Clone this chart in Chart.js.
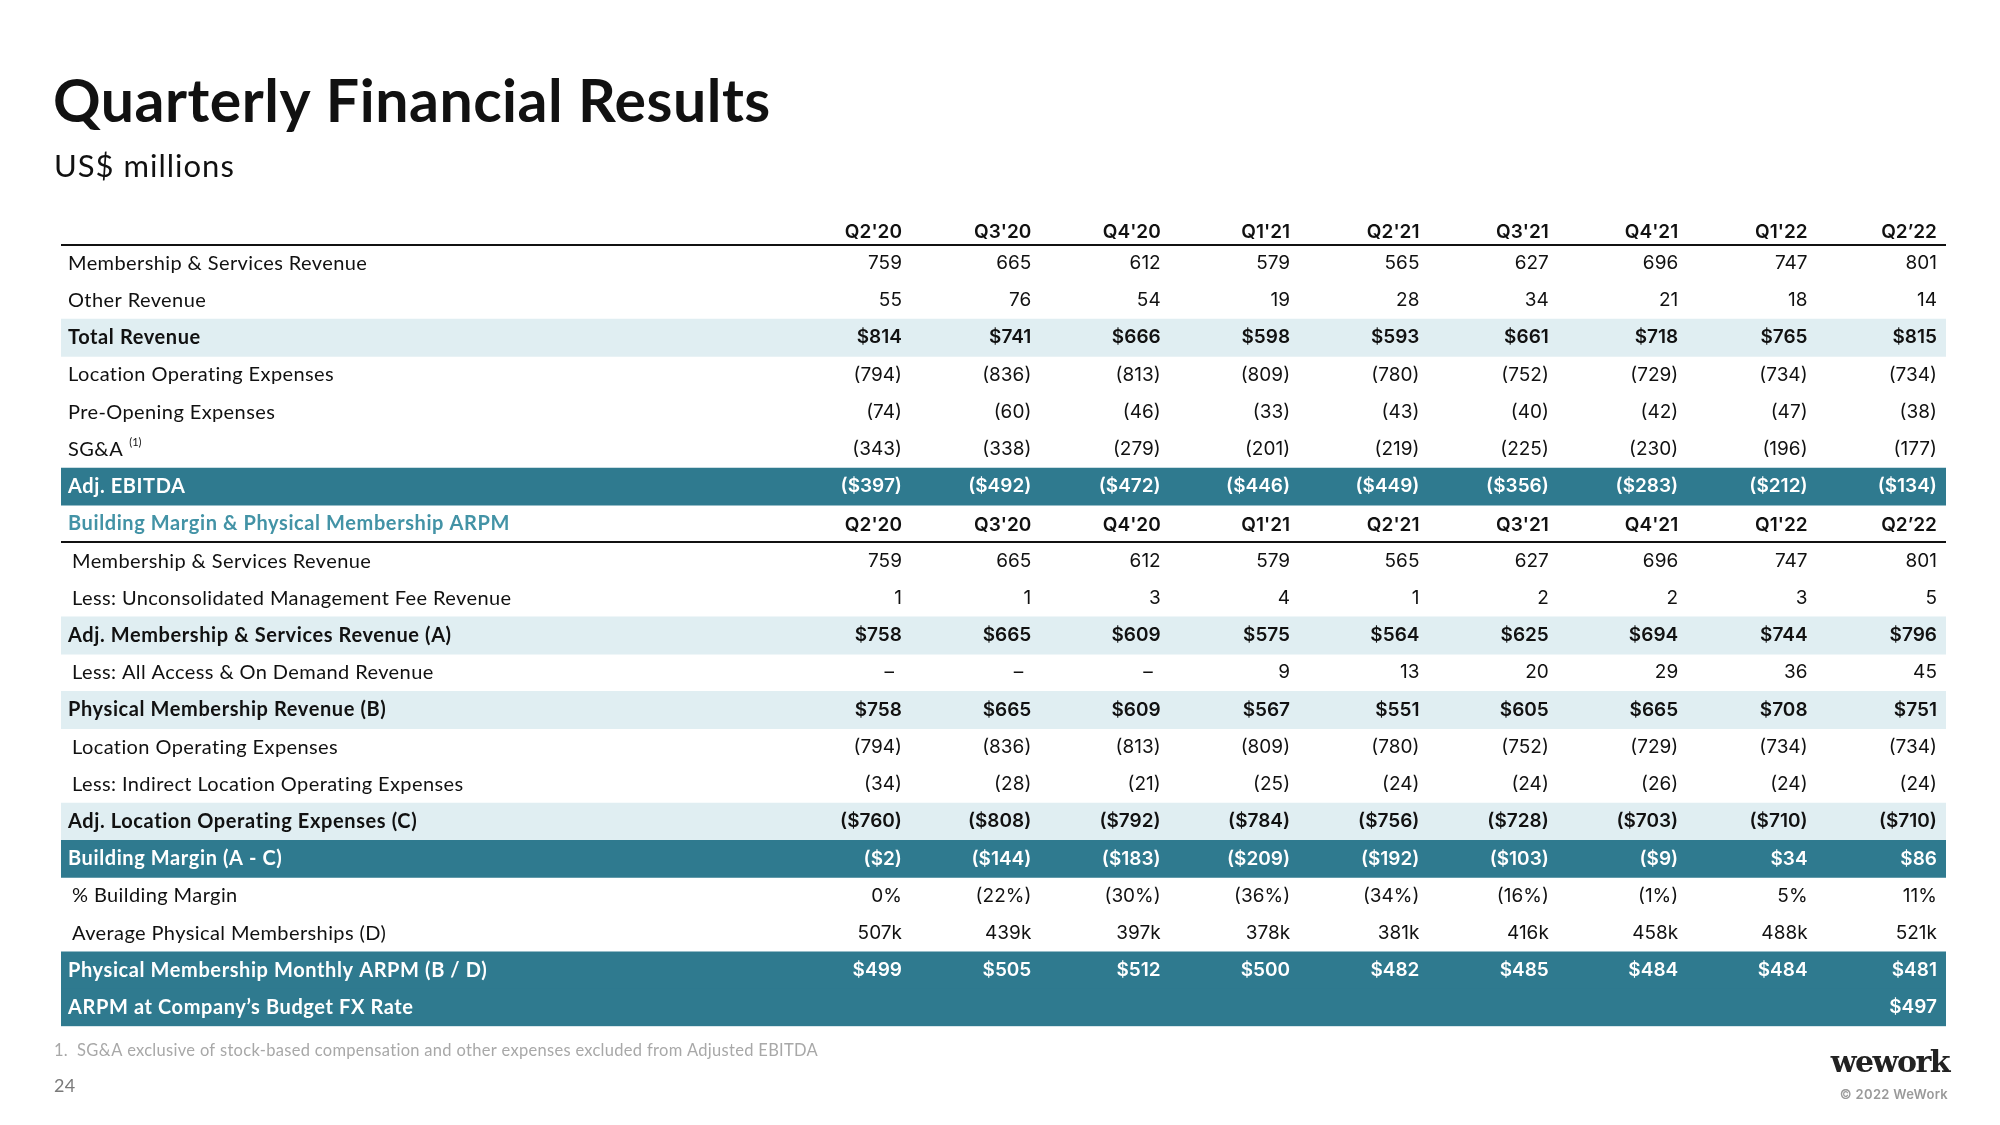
<!DOCTYPE html>
<html>
<head>
<meta charset="utf-8">
<script src="https://cdn.jsdelivr.net/npm/chart.js@4.4.1/dist/chart.umd.min.js"></script>
<style>
  html, body { margin: 0; padding: 0; background: #ffffff; }
  #wrap { width: 2000px; height: 1125px; position: relative; }
  canvas { display: block; }
</style>
</head>
<body>
<div id="wrap"><canvas id="c" width="2000" height="1125"></canvas></div>
<script>
// ---------- DATA ----------
const quarters = ["Q2'20", "Q3'20", "Q4'20", "Q1'21", "Q2'21", "Q3'21", "Q4'21", "Q1'22", "Q2\u201922"];

// Section 1: Quarterly results
const membershipServicesRevenue = [759, 665, 612, 579, 565, 627, 696, 747, 801];
const otherRevenue = [55, 76, 54, 19, 28, 34, 21, 18, 14];
const totalRevenue = [814, 741, 666, 598, 593, 661, 718, 765, 815];
const locationOperatingExpenses = [-794, -836, -813, -809, -780, -752, -729, -734, -734];
const preOpeningExpenses = [-74, -60, -46, -33, -43, -40, -42, -47, -38];
const sgaExpenses = [-343, -338, -279, -201, -219, -225, -230, -196, -177];
const adjEbitda = [-397, -492, -472, -446, -449, -356, -283, -212, -134];

// Section 2: Building margin & physical membership ARPM
const unconsolidatedMgmtFeeRevenue = [1, 1, 3, 4, 1, 2, 2, 3, 5];
const adjMembershipServicesRevenue = [758, 665, 609, 575, 564, 625, 694, 744, 796];
const allAccessOnDemandRevenue = [null, null, null, 9, 13, 20, 29, 36, 45];
const physicalMembershipRevenue = [758, 665, 609, 567, 551, 605, 665, 708, 751];
const indirectLocationOpEx = [-34, -28, -21, -25, -24, -24, -26, -24, -24];
const adjLocationOpEx = [-760, -808, -792, -784, -756, -728, -703, -710, -710];
const buildingMargin = [-2, -144, -183, -209, -192, -103, -9, 34, 86];
const buildingMarginPct = [0, -22, -30, -36, -34, -16, -1, 5, 11];
const avgPhysicalMembershipsK = [507, 439, 397, 378, 381, 416, 458, 488, 521];
const physicalMonthlyArpm = [499, 505, 512, 500, 482, 485, 484, 484, 481];
const arpmBudgetFx = [null, null, null, null, null, null, null, null, 497];

// ---------- FORMATTERS ----------
const fmtPlain = v => v === null ? '\u2013' : (v < 0 ? '(' + (-v) + ')' : String(v));
const fmtMoney = v => v === null ? '' : (v < 0 ? '($' + (-v) + ')' : '$' + v);
const fmtPct = v => v === null ? '' : (v < 0 ? '(' + (-v) + '%)' : v + '%');
const fmtK = v => v === null ? '' : v + 'k';
const fmtBlank = v => v === null ? '' : fmtMoney(v);

// row kinds: head (column header), plain, sub (indented plain), light (light band, bold), dark (dark band), section
const rows = [
  { label: '', kind: 'head' },
  { label: 'Membership & Services Revenue', kind: 'plain', values: membershipServicesRevenue, fmt: fmtPlain },
  { label: 'Other Revenue', kind: 'plain', values: otherRevenue, fmt: fmtPlain },
  { label: 'Total Revenue', kind: 'light', values: totalRevenue, fmt: fmtMoney },
  { label: 'Location Operating Expenses', kind: 'plain', values: locationOperatingExpenses, fmt: fmtPlain },
  { label: 'Pre-Opening Expenses', kind: 'plain', values: preOpeningExpenses, fmt: fmtPlain },
  { label: 'SG&A', kind: 'plain', values: sgaExpenses, fmt: fmtPlain, sup: '(1)' },
  { label: 'Adj. EBITDA', kind: 'dark', values: adjEbitda, fmt: fmtMoney },
  { label: 'Building Margin & Physical Membership ARPM', kind: 'section' },
  { label: 'Membership & Services Revenue', kind: 'sub', values: membershipServicesRevenue, fmt: fmtPlain },
  { label: 'Less: Unconsolidated Management Fee Revenue', kind: 'sub', values: unconsolidatedMgmtFeeRevenue, fmt: fmtPlain },
  { label: 'Adj. Membership & Services Revenue (A)', kind: 'light', values: adjMembershipServicesRevenue, fmt: fmtMoney },
  { label: 'Less: All Access & On Demand Revenue', kind: 'sub', values: allAccessOnDemandRevenue, fmt: fmtPlain },
  { label: 'Physical Membership Revenue (B)', kind: 'light', values: physicalMembershipRevenue, fmt: fmtMoney },
  { label: 'Location Operating Expenses', kind: 'sub', values: locationOperatingExpenses, fmt: fmtPlain },
  { label: 'Less: Indirect Location Operating Expenses', kind: 'sub', values: indirectLocationOpEx, fmt: fmtPlain },
  { label: 'Adj. Location Operating Expenses (C)', kind: 'light', values: adjLocationOpEx, fmt: fmtMoney },
  { label: 'Building Margin (A - C)', kind: 'dark', values: buildingMargin, fmt: fmtMoney },
  { label: '% Building Margin', kind: 'sub', values: buildingMarginPct, fmt: fmtPct },
  { label: 'Average Physical Memberships (D)', kind: 'sub', values: avgPhysicalMembershipsK, fmt: fmtK },
  { label: 'Physical Membership Monthly ARPM (B / D)', kind: 'dark', values: physicalMonthlyArpm, fmt: fmtMoney },
  { label: 'ARPM at Company\u2019s Budget FX Rate', kind: 'dark', values: arpmBudgetFx, fmt: fmtBlank }
];

// ---------- STYLE ----------
const DARK = '#2F7A8F';
const LIGHT = '#E0EEF2';
const TEAL_TEXT = '#4393A6';
const X_MIN = -6.5, X_MAX = 8.07;
const LABEL_FONT = 'Lato, "Noto Sans", sans-serif';
const NUM_FONT = 'Inter, "Noto Sans", sans-serif';

const rowLabels = rows.map((r, i) => i + ':' + r.label);
const bandData = rows.map(r => (r.kind === 'light' || r.kind === 'dark') ? [X_MIN, X_MAX] : null);
const bandColors = rows.map(r => r.kind === 'dark' ? DARK : LIGHT);

const tablePlugin = {
  id: 'tableText',
  afterDatasetsDraw(chart) {
    const ctx = chart.ctx;
    const xs = chart.scales.x, ys = chart.scales.y;
    const left = xs.getPixelForValue(X_MIN), right = xs.getPixelForValue(X_MAX);
    const rowY = i => ys.getPixelForValue(i);
    const boundary = i => (rowY(i) + rowY(i + 1)) / 2;
    ctx.save();

    // rules
    ctx.fillStyle = '#111111';
    ctx.fillRect(left, Math.round(boundary(0)) - 1, right - left, 2);
    ctx.fillRect(left, Math.round(boundary(8)) - 1, right - left, 2);

    ctx.textBaseline = 'middle';
    rows.forEach((r, i) => {
      const y = rowY(i);
      if (r.kind === 'head' || r.kind === 'section') {
        const hy = r.kind === 'head' ? y + 6 : y + 1;
        ctx.letterSpacing = '0px';
        ctx.font = '600 19px ' + NUM_FONT;
        ctx.fillStyle = '#111111';
        ctx.textAlign = 'right';
        quarters.forEach((q, k) => ctx.fillText(q, xs.getPixelForValue(k), hy));
        if (r.kind === 'section') {
          ctx.textAlign = 'left';
          ctx.letterSpacing = '0.6px';
          ctx.font = 'bold 20px ' + LABEL_FONT;
          ctx.fillStyle = TEAL_TEXT;
          ctx.fillText(r.label, left + 7, y);
        }
        return;
      }
      const bold = r.kind === 'light' || r.kind === 'dark';
      const color = r.kind === 'dark' ? '#ffffff' : '#111111';
      // label
      ctx.textAlign = 'left';
      ctx.fillStyle = color;
      ctx.letterSpacing = bold ? '0.6px' : '0.4px';
      ctx.font = (bold ? 'bold ' : '') + '20px ' + LABEL_FONT;
      const lx = left + (r.kind === 'sub' ? 11 : 7);
      ctx.fillText(r.label, lx, y);
      if (r.sup) {
        const w = ctx.measureText(r.label).width;
        ctx.letterSpacing = '0px';
        ctx.font = '11px ' + LABEL_FONT;
        ctx.fillText(r.sup, lx + w + 6, y - 7);
      }
      // values
      ctx.letterSpacing = '0px';
      ctx.textAlign = 'right';
      ctx.font = (bold ? '600 ' : '400 ') + '19px ' + NUM_FONT;
      r.values.forEach((v, k) => {
        const s = r.fmt(v);
        const x = xs.getPixelForValue(k);
        if (s === '\u2013') ctx.fillText(s, x - 8, y);
        else ctx.fillText(s, x, y);
      });
    });

    // title & subtitle
    ctx.textAlign = 'left';
    ctx.textBaseline = 'alphabetic';
    ctx.fillStyle = '#111111';
    ctx.letterSpacing = '0.5px';
    ctx.font = 'bold 59px ' + LABEL_FONT;
    ctx.fillText('Quarterly Financial Results', 53, 122);
    ctx.letterSpacing = '1px';
    ctx.font = '31px ' + LABEL_FONT;
    ctx.fillText('US$ millions', 54, 177);

    // footnote & page number
    ctx.textBaseline = 'middle';
    ctx.fillStyle = '#A8A8A8';
    ctx.letterSpacing = '0.3px';
    ctx.font = '16.5px ' + LABEL_FONT;
    ctx.fillText('1.  SG&A exclusive of stock-based compensation and other expenses excluded from Adjusted EBITDA', 54, 1051);
    ctx.fillStyle = '#7a7a7a';
    ctx.font = '18px ' + LABEL_FONT;
    ctx.fillText('24', 54, 1086);

    // logo
    ctx.textAlign = 'right';
    ctx.fillStyle = '#222222';
    ctx.letterSpacing = '-1.5px';
    ctx.font = 'bold 30px "DejaVu Serif", "Liberation Serif", serif';
    ctx.textBaseline = 'alphabetic';
    ctx.fillText('wework', 1949, 1072);
    ctx.letterSpacing = '0.3px';
    ctx.textBaseline = 'middle';
    ctx.fillStyle = '#9a9a9a';
    ctx.font = '600 13px ' + NUM_FONT;
    ctx.fillText('\u00A9 2022 WeWork', 1948, 1095);
    ctx.restore();
  }
};

new Chart(document.getElementById('c'), {
  type: 'bar',
  data: {
    labels: rowLabels,
    datasets: [{
      data: bandData,
      backgroundColor: bandColors,
      borderWidth: 0,
      barPercentage: 1,
      categoryPercentage: 1
    }]
  },
  options: {
    indexAxis: 'y',
    responsive: false,
    animation: false,
    devicePixelRatio: 1,
    layout: { padding: { left: 61, right: 54, top: 207.5, bottom: 98.7 } },
    plugins: { legend: { display: false }, tooltip: { enabled: false }, title: { display: false } },
    scales: {
      x: { type: 'linear', min: X_MIN, max: X_MAX, display: false },
      y: { type: 'category', display: false, offset: true }
    }
  },
  plugins: [tablePlugin]
});
</script>
</body>
</html>
